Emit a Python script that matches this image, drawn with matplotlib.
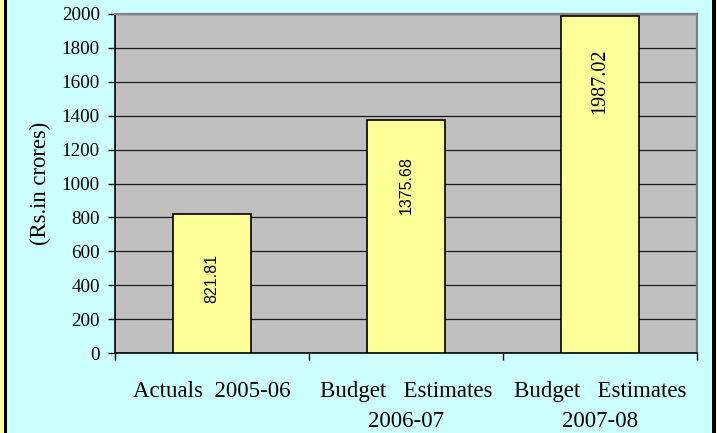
import matplotlib
matplotlib.use("Agg")
import matplotlib.pyplot as plt
from matplotlib.patches import Rectangle
import numpy as np

categories = ["Actuals  2005-06", "Budget   Estimates\n2006-07", "Budget   Estimates\n2007-08"]
values = [821.81, 1375.68, 1987.02]
value_labels = ["821.81", "1375.68", "1987.02"]
label_fonts = ["Liberation Sans", "Liberation Sans", "Liberation Serif"]
y_ticks = [0, 200, 400, 600, 800, 1000, 1200, 1400, 1600, 1800, 2000]

W, H = 717, 433
fig = plt.figure(figsize=(W / 100, H / 100), dpi=100, facecolor="#FFFF99")
fig.patches.append(Rectangle((4 / W, 0), 712 / W, 1, transform=fig.transFigure,
                             facecolor="black", edgecolor="none", zorder=-3))
fig.patches.append(Rectangle((7 / W, 0), 705 / W, 1, transform=fig.transFigure,
                             facecolor="#CCFFFF", edgecolor="none", zorder=-2))

ax = fig.add_axes([115 / W, 1 - 353 / H, (697 - 115) / W, (353 - 14) / H])
ax.set_facecolor("#C0C0C0")

x = np.arange(len(values))
ax.bar(x, values, width=0.40, color="#FFFF99", edgecolor="black", linewidth=1.2, zorder=3)

ax.set_xlim(-0.5, len(values) - 0.5)
ax.set_ylim(0, 2000)
ax.set_yticks(y_ticks)
ax.set_yticklabels([str(t) for t in y_ticks], family="Liberation Serif", fontsize=13.7)
ax.yaxis.grid(True, color="#1a1a1a", linewidth=0.9, zorder=1)
ax.set_axisbelow(True)

ax.set_xticks(x)
ax.set_xticklabels(categories, family="Liberation Serif", fontsize=16.5, linespacing=1.6)
ax.set_xticks(np.arange(-0.5, len(values), 1.0), minor=True)
ax.tick_params(axis="x", which="major", length=0, pad=20)
ax.tick_params(axis="x", which="minor", length=5, direction="out", width=1, color="black")
ax.tick_params(axis="y", length=5, direction="out", width=1, pad=6, color="black")

for side in ["top", "right"]:
    ax.spines[side].set_color("#808080")
    ax.spines[side].set_linewidth(1.6)
for side in ["left", "bottom"]:
    ax.spines[side].set_color("black")
    ax.spines[side].set_linewidth(1.2)

ax.set_ylabel("(Rs.in crores)", family="Liberation Serif", fontsize=16.3)
ax.yaxis.set_label_coords(-64 / (697 - 115), 0.5)

for xi, v, lab, fam in zip(x, values, value_labels, label_fonts):
    ax.annotate(lab, xy=(xi, v), xytext=(0, -47), textcoords="offset points",
                rotation=90, ha="center", va="center", family=fam,
                fontsize=11.5 if fam == "Liberation Sans" else 14.5, zorder=4)

fig.savefig("out.png", dpi=100, facecolor=fig.get_facecolor())
